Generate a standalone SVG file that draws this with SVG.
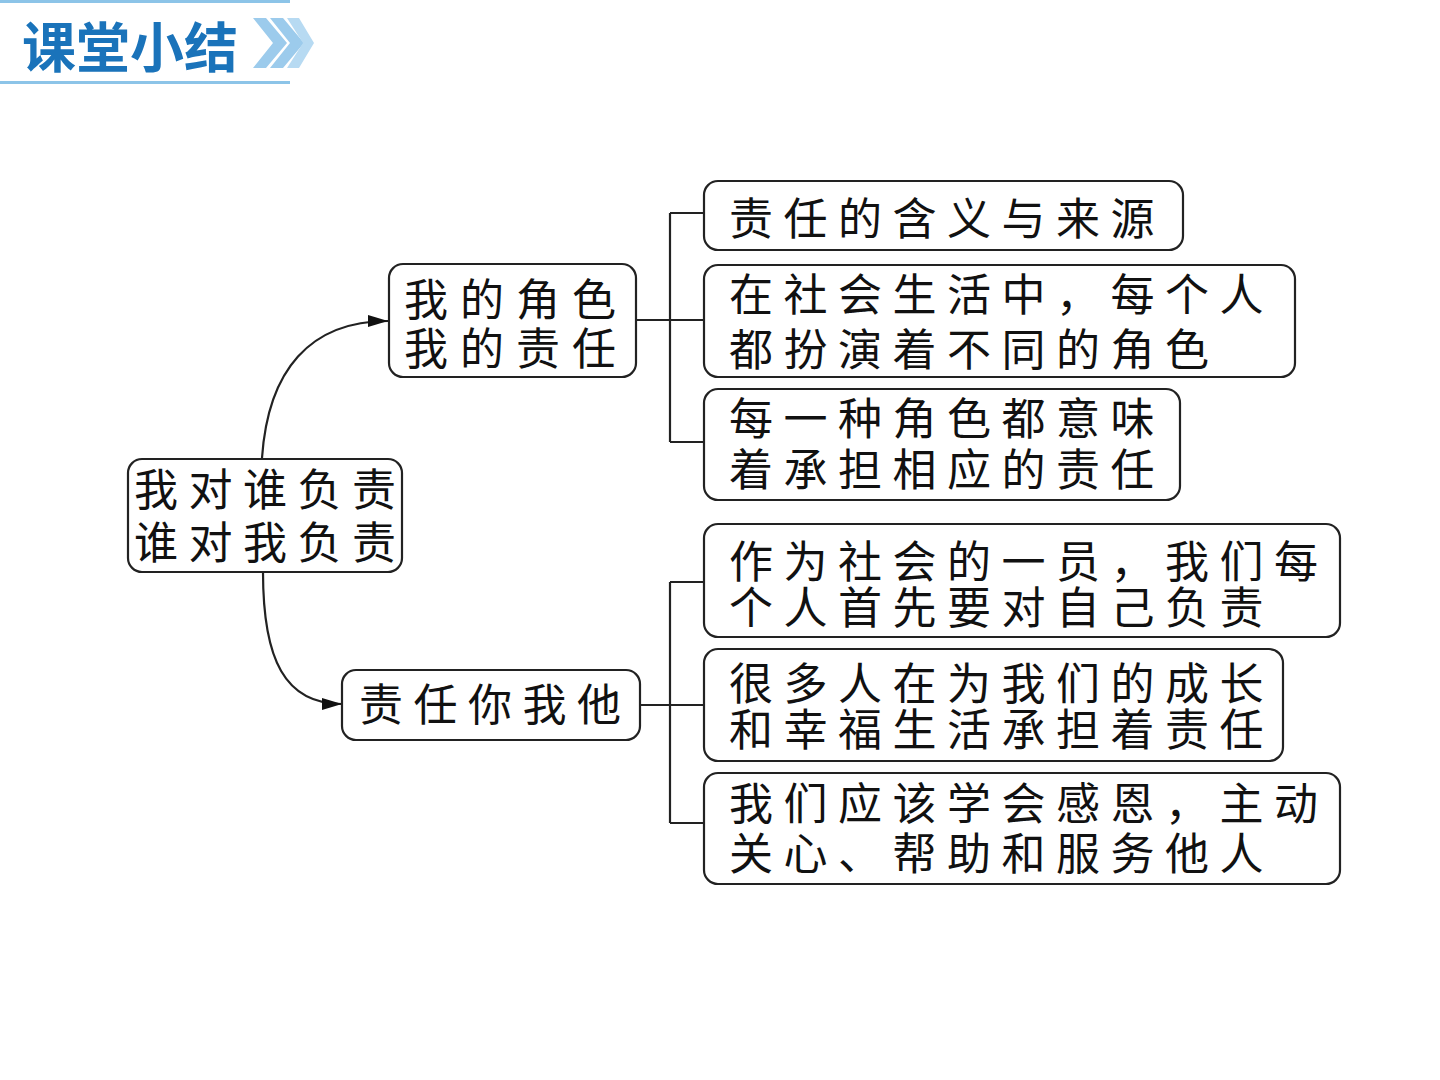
<svg xmlns="http://www.w3.org/2000/svg" width="1440" height="1080" viewBox="0 0 1440 1080">
<style>
.box{fill:#fff;stroke:#222;stroke-width:2.2}
.t{font-family:"Noto Sans CJK SC","Noto Sans CJK JP",sans-serif;font-size:44px;letter-spacing:10.5px;fill:#111;dominant-baseline:central}
.ln{fill:none;stroke:#222;stroke-width:2.2}
.title{font-family:"Noto Sans CJK SC",sans-serif;font-size:54px;font-weight:bold;fill:#1a73ba;dominant-baseline:central}
</style>
<defs>
<marker id="arr" markerUnits="userSpaceOnUse" markerWidth="22" markerHeight="14" refX="20" refY="7" orient="auto">
<path d="M0,1 L20,7 L0,13 Z" fill="#111"/>
</marker>
</defs>
<rect width="1440" height="1080" fill="#fff"/>
<g id="header">
<rect x="0" y="0" width="290" height="3" fill="#8cc4e8"/>
<rect x="0" y="81" width="290" height="3" fill="#8cc4e8"/>
<text class="title" x="22" y="44">课堂小结</text>
<g fill="#9ccbec">
<polygon points="253,18 266,18 287,43 266,68 253,68 273,43"/>
<polygon points="270,18 283,18 304,43 283,68 270,68 290,43"/>
<polygon points="287,18 299,18 314,43 299,68 287,68 303,43" fill="#b7daf2"/>
</g>
</g>
<g id="connectors">
<path class="ln" d="M262,458 C268,370 310,321 388,321" marker-end="url(#arr)"/>
<path class="ln" d="M263,572 C263,660 285,704 342,704" marker-end="url(#arr)"/>
<path class="ln" d="M636,320 H670 M670,213 V442 M670,213 H704 M670,320 H704 M670,442 H704"/>
<path class="ln" d="M640,705 H670 M670,582 V823 M670,582 H704 M670,705 H704 M670,823 H704"/>
</g>
<g id="root">
<rect class="box" x="128" y="459" width="274" height="113" rx="14"/>
<text class="t" x="134" y="487">我对谁负责</text>
<text class="t" x="134" y="540">谁对我负责</text>
</g>
<g id="n-role">
<rect class="box" x="389" y="264" width="247" height="113" rx="14"/>
<text class="t" x="404" y="297" style="letter-spacing:12px">我的角色</text>
<text class="t" x="404" y="346" style="letter-spacing:12px">我的责任</text>
</g>
<g id="n-you">
<rect class="box" x="342" y="670" width="298" height="70" rx="14"/>
<text class="t" x="359" y="702">责任你我他</text>
</g>
<g id="a1">
<rect class="box" x="704" y="181" width="479" height="69" rx="14"/>
<text class="t" x="729" y="216">责任的含义与来源</text>
</g>
<g id="a2">
<rect class="box" x="704" y="265" width="591" height="112" rx="14"/>
<text class="t" x="729" y="292">在社会生活中，每个人</text>
<text class="t" x="729" y="347">都扮演着不同的角色</text>
</g>
<g id="a3">
<rect class="box" x="704" y="389" width="476" height="111" rx="14"/>
<text class="t" x="729" y="416">每一种角色都意味</text>
<text class="t" x="729" y="467">着承担相应的责任</text>
</g>
<g id="b1">
<rect class="box" x="704" y="524" width="636" height="113" rx="14"/>
<text class="t" x="729" y="559">作为社会的一员，我们每</text>
<text class="t" x="729" y="605">个人首先要对自己负责</text>
</g>
<g id="b2">
<rect class="box" x="704" y="649" width="579" height="112" rx="14"/>
<text class="t" x="729" y="681">很多人在为我们的成长</text>
<text class="t" x="729" y="727">和幸福生活承担着责任</text>
</g>
<g id="b3">
<rect class="box" x="704" y="773" width="636" height="111" rx="14"/>
<text class="t" x="729" y="801">我们应该学会感恩，主动</text>
<text class="t" x="729" y="851">关心、帮助和服务他人</text>
</g>
</svg>
